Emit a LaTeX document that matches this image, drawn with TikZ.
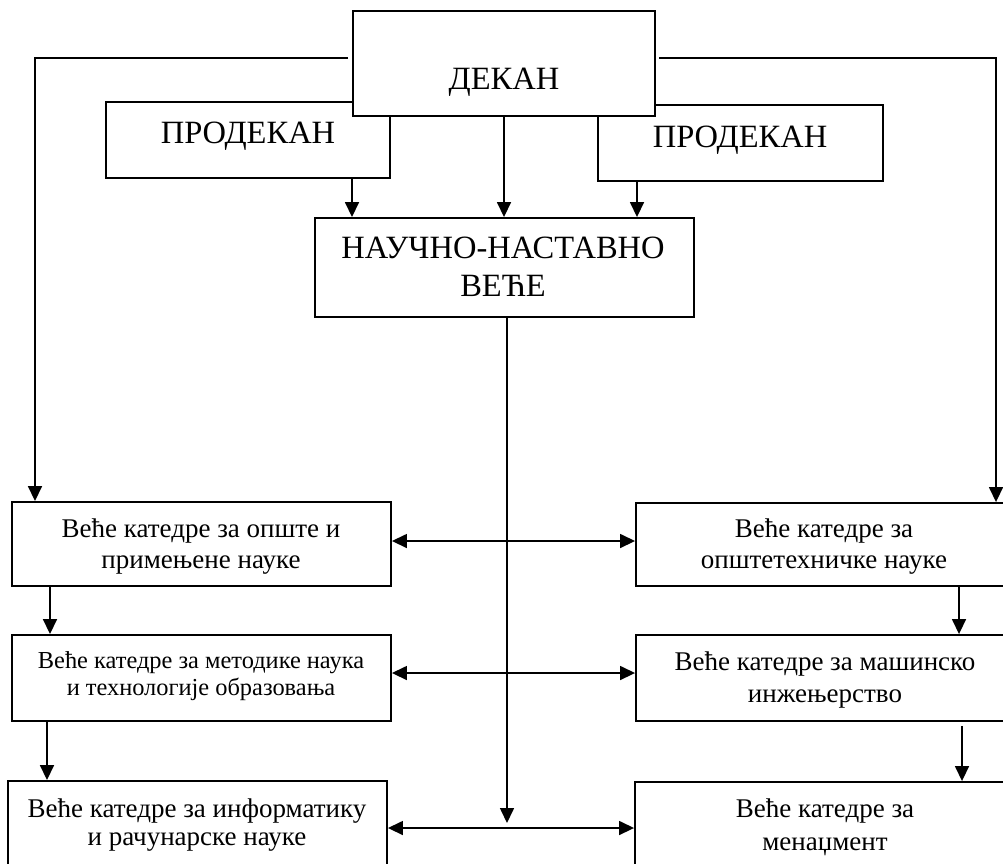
\documentclass[tikz,border=0pt]{standalone}
\usepackage{fontspec}
\setmainfont{Liberation Serif}
\usetikzlibrary{arrows.meta}
\begin{document}
\begin{tikzpicture}[x=1pt,y=-1pt,
  box/.style={draw,line width=1.9pt,fill=white,inner sep=0pt},
  conn/.style={line width=1.6pt},
  arr/.style={conn,-{Triangle[length=15pt,width=14pt]}},
  biarr/.style={conn,{Triangle[length=15pt,width=14pt]}-{Triangle[length=15pt,width=14pt]}},
  txt/.style 2 args={font=\fontsize{#1}{#2}\selectfont,inner sep=0pt,anchor=base}]
\useasboundingbox (0,0) rectangle (1003,863);
% boxes
\node[box,minimum width=284pt,minimum height=76pt] (prodL) at (248,140) {};
\node[box,minimum width=285pt,minimum height=76pt] (prodR) at (740.5,143) {};
\node[box,minimum width=302pt,minimum height=105pt] (dekan) at (504,63.5) {};
\node[box,minimum width=379pt,minimum height=99pt] (vece) at (504.5,267.5) {};
\node[box,minimum width=379pt,minimum height=84pt] (tl) at (201.5,544) {};
\node[box,minimum width=379pt,minimum height=83pt] (tr) at (825.5,544.5) {};
\node[box,minimum width=379pt,minimum height=86pt] (ml) at (201.5,678) {};
\node[box,minimum width=379pt,minimum height=86pt] (mr) at (825.5,678) {};
\node[box,minimum width=379pt,minimum height=100pt] (bl) at (197.5,831) {};
\node[box,minimum width=379pt,minimum height=100pt] (br) at (824.5,832) {};
% texts
\node[txt={32.5}{38}] (dekanT) at (504,89) {ДЕКАН};
\node[txt={32.5}{38}] (prodLT) at (248,143) {ПРОДЕКАН};
\node[txt={32.5}{38}] (prodRT) at (740,147) {ПРОДЕКАН};
\node[txt={32.5}{38}] (veceT) at (503,258) {\begin{tabular}[t]{@{}c@{}}НАУЧНО-НАСТАВНО\\ ВЕЋЕ\end{tabular}};
\node[txt={27}{31}] (tlT) at (201,537) {\begin{tabular}[t]{@{}c@{}}Веће катедре за опште и\\ примењене науке\end{tabular}};
\node[txt={27}{31}] (trT) at (824,537) {\begin{tabular}[t]{@{}c@{}}Веће катедре за\\ општетехничке науке\end{tabular}};
\node[txt={24.4}{27}] (mlT) at (201,668) {\begin{tabular}[t]{@{}c@{}}Веће катедре за методике наука\\ и технологије образовања\end{tabular}};
\node[txt={27}{32}] (mrT) at (825,670) {\begin{tabular}[t]{@{}c@{}}Веће катедре за машинско\\ инжењерство\end{tabular}};
\node[txt={27}{28}] (blT) at (197,817) {\begin{tabular}[t]{@{}c@{}}Веће катедре за информатику\\ и рачунарске науке\end{tabular}};
\node[txt={27}{33}] (brT) at (825,817) {\begin{tabular}[t]{@{}c@{}}Веће катедре за\\ менаџмент\end{tabular}};
% connectors
\coordinate (dL) at (348,58);
\coordinate (dR) at (659,58);
\coordinate (vEnd) at (507,823);
\draw[arr] (dL) -| (tl.north -| 35,0);
\draw[arr] (dR) -| (tr.north -| 996,0);
\draw[arr] (prodL.south -| 352,0) -- (vece.north -| 352,0);
\draw[arr] (dekan.south) -- (vece.north -| dekan.south);
\draw[arr] (prodR.south -| 637,0) -- (vece.north -| 637,0);
\draw[arr] (vece.south -| 507,0) -- (vEnd);
\draw[biarr] (tl.east |- 0,541) -- (tr.west |- 0,541);
\draw[biarr] (ml.east |- 0,673) -- (mr.west |- 0,673);
\draw[biarr] (bl.east |- 0,828) -- (br.west |- 0,828);
\draw[arr] (tl.south -| 50,0) -- (ml.north -| 50,0);
\draw[arr] (ml.south -| 47,0) -- (bl.north -| 47,0);
\draw[arr] (tr.south -| 959,0) -- (mr.north -| 959,0);
\draw[arr] (mr.south -| 962,0) ++(0,4) -- (br.north -| 962,0);
\end{tikzpicture}
\end{document}
